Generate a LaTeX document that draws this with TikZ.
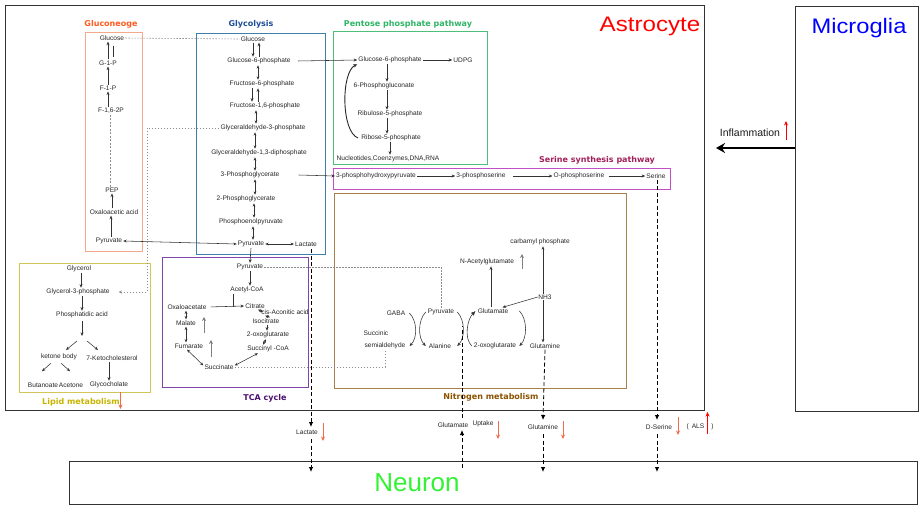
\documentclass[tikz,border=0pt]{standalone}
\usepackage{fontspec}
\setmainfont{Liberation Sans}
\newfontfamily\ttlfont{DejaVu Sans}
\usetikzlibrary{arrows.meta}
\definecolor{cGlucT}{HTML}{FF5A1F}
\definecolor{cGlucB}{HTML}{F5A88C}
\definecolor{cGlyT}{HTML}{1F4E99}
\definecolor{cGlyB}{HTML}{3D7EAA}
\definecolor{cPPPT}{HTML}{2DB565}
\definecolor{cPPPB}{HTML}{4DBF7A}
\definecolor{cSerT}{HTML}{A3205A}
\definecolor{cSerB}{HTML}{C44FC4}
\definecolor{cNitT}{HTML}{8A5200}
\definecolor{cNitB}{HTML}{A8804A}
\definecolor{cTCAT}{HTML}{4A1070}
\definecolor{cTCAB}{HTML}{7D45A8}
\definecolor{cLipT}{HTML}{C8B400}
\definecolor{cLipB}{HTML}{D2C65A}
\definecolor{cDown}{HTML}{F26B4A}
\definecolor{cAstro}{HTML}{FF0000}
\definecolor{cMicro}{HTML}{0000FF}
\definecolor{cNeuron}{HTML}{33F233}
\begin{document}
\begin{tikzpicture}[x=1pt,y=-1pt,
  lbl/.style={font=\fontsize{6.6}{7}\selectfont, text=black!85, inner sep=1pt},
  ttl/.style={font=\ttlfont\bfseries\fontsize{8}{9}\selectfont, inner sep=1pt},
  arr/.style={draw=black!80, line width=0.55pt, -{Stealth[length=3.6pt,width=3pt]}},
  darr/.style={draw=black!80, line width=0.55pt, {Stealth[length=3.4pt,width=2.8pt]}-{Stealth[length=3.4pt,width=2.8pt]}},
  plain/.style={draw=black!80, line width=0.55pt},
  dots/.style={draw=black!45, line width=0.6pt, dash pattern=on 1.5pt off 1.5pt},
  bigdash/.style={draw=black, line width=0.8pt, dash pattern=on 4pt off 2.5pt, -{Latex[length=5pt,width=4.5pt]}},
  redarr/.style={draw=cDown, line width=0.9pt, -{Stealth[length=4.5pt,width=4pt]}},
  redup/.style={draw=red, line width=0.9pt, -{Stealth[length=4.5pt,width=4pt]}},
  grayup/.style={draw=black!50, line width=1pt, -{Stealth[length=4pt,width=4pt]}},
  cellbox/.style={draw=black!80, line width=1.2pt, inner sep=0pt, anchor=north west},
  pbox/.style={line width=0.9pt}]
\useasboundingbox (0,0) rectangle (921,508);

% ---------- cell boxes ----------
\node[cellbox, minimum width=699pt, minimum height=405pt] (astro) at (5,5) {};
\node[cellbox, minimum width=123pt, minimum height=405pt] (micro) at (795,6) {};
\node[cellbox, minimum width=848pt, minimum height=43pt] (neuron) at (69,461) {};
\node[font=\fontsize{21}{21}\selectfont, text=cAstro, inner sep=0pt] (tAstro) at (650,26) {\scalebox{1.15}[1]{Astrocyte}};
\node[font=\fontsize{21}{21}\selectfont, text=cMicro, inner sep=0pt] (tMicro) at (859,28) {\scalebox{1.13}[1]{Microglia}};
\node[font=\fontsize{26}{26}\selectfont, text=cNeuron, inner sep=0pt] (tNeuron) at (417,483) {Neuron};

% Inflammation
\node[font=\fontsize{10.5}{11}\selectfont, text=black!90, inner sep=0pt] (infl) at (750,133) {Inflammation};
\coordinate (inflEnd) at (716,148);
\draw[line width=1.8pt, -{Stealth[length=9pt,width=10pt]}] (micro.west |- inflEnd) -- (inflEnd);
\draw[redup] (786,140) -- (786,121);

% ---------- pathway boxes ----------
\draw[pbox, draw=cGlucB] (85,32) rectangle (142,251);
\draw[pbox, draw=cGlyB] (196,33) rectangle (325,254);
\draw[pbox, draw=cPPPB] (333,31) rectangle (487,164);
\draw[pbox, draw=cSerB] (333,168) rectangle (670,189);
\draw[pbox, draw=cNitB] (334,193) rectangle (626,388);
\draw[pbox, draw=cLipB] (19,263) rectangle (150,392);
\draw[pbox, draw=cTCAB] (162,257) rectangle (308,387);

\node[ttl, text=cGlucT] (hGluc) at (111,24) {Gluconeoge};
\node[ttl, text=cGlyT] (hGly) at (251,24) {Glycolysis};
\node[ttl, text=cPPPT] (hPPP) at (408,24) {Pentose phosphate pathway};
\node[ttl, text=cSerT] (hSer) at (597,160) {Serine synthesis pathway};
\node[ttl, text=cNitT] (hNit) at (491,397) {Nitrogen metabolism};
\node[ttl, text=cTCAT] (hTCA) at (265,398) {TCA cycle};
\node[ttl, text=cLipT] (hLip) at (81,402) {Lipid metabolism};
\draw[redarr] (120.5,392) -- (120.5,409);

% ---------- gluconeogenesis ----------
\node[lbl] (gGlc) at (112,38) {Glucose};
\node[lbl] (gG1P) at (108,63) {G-1-P};
\node[lbl] (gF1P) at (108,88) {F-1-P};
\node[lbl] (gF16) at (111,111) {F-1,6-2P};
\node[lbl] (gPEP) at (112,190) {PEP};
\node[lbl] (gOAA) at (114,212) {Oxaloacetic acid};
\node[lbl] (gPyr) at (109,241) {Pyruvate};
\draw[arr] (108,0 |- gG1P.north) -- (108,0 |- gGlc.south);
\draw[plain, shorten <=4pt, shorten >=2pt] (113,0 |- gGlc.south) -- (113,0 |- gG1P.north);
\draw[arr] (108,0 |- gF1P.north) -- (108,0 |- gG1P.south);
\draw[arr] (108,0 |- gF16.north) -- (108,0 |- gF1P.south);
\draw[dots, dash pattern=on 2pt off 1.5pt] (110,0 |- gPEP.north) -- (110,0 |- gF16.south);
\draw[arr] (112,0 |- gOAA.north) -- (112,0 |- gPEP.south);
\draw[arr] (111,0 |- gPyr.north) -- (111,0 |- gOAA.south);

% ---------- glycolysis ----------
\node[lbl] (yGlc) at (253,39) {Glucose};
\node[lbl] (yG6P) at (259,61) {Glucose-6-phosphate};
\node[lbl] (yF6P) at (262,84) {Fructose-6-phosphate};
\node[lbl] (yF16) at (265,106) {Fructose-1,6-phosphate};
\node[lbl] (yGA3P) at (263,128) {Glyceraldehyde-3-phosphate};
\node[lbl] (yGA13) at (259,153) {Glyceraldehyde-1,3-diphosphate};
\node[lbl] (y3PG) at (250,175) {3-Phosphoglycerate};
\node[lbl] (y2PG) at (246,199) {2-Phosphoglycerate};
\node[lbl] (yPEP) at (251,222) {Phosphoenolpyruvate};
\node[lbl] (yPyr) at (251,244) {Pyruvate};
\node[lbl] (yLac) at (306,244) {Lactate};
\draw[arr] (253,0 |- yGlc.south) -- (253,0 |- yG6P.north);
\draw[arr] (259,0 |- yG6P.north) -- (259,0 |- yGlc.south);
\draw[darr] (258,0 |- yG6P.south) -- (258,0 |- yF6P.north);
\draw[arr] (252,0 |- yF6P.south) -- (252,0 |- yF16.north);
\draw[arr] (258,0 |- yF16.north) -- (258,0 |- yF6P.south);
\draw[darr] (256,0 |- yF16.south) -- (256,0 |- yGA3P.north);
\draw[darr] (255,0 |- yGA3P.south) -- (255,0 |- yGA13.north);
\draw[darr] (255,0 |- yGA13.south) -- (255,0 |- y3PG.north);
\draw[darr] (255,0 |- y3PG.south) -- (255,0 |- y2PG.north);
\draw[darr] (254,0 |- y2PG.south) -- (254,0 |- yPEP.north);
\draw[darr] (253,0 |- yPEP.south) -- (253,0 |- yPyr.north);
\draw[darr] (yPyr.east) -- (yLac.west);
\draw[darr] (gPyr.east) -- (yPyr.west);
\draw[dots] (gGlc.east) -- (yGlc.west);

% ---------- pentose phosphate ----------
\node[lbl] (pG6P) at (390,60) {Glucose-6-phosphate};
\node[lbl] (pUDPG) at (463,60) {UDPG};
\node[lbl] (p6PG) at (384,86) {6-Phosphogluconate};
\node[lbl] (pRu5P) at (390,114) {Ribulose-5-phosphate};
\node[lbl] (pR5P) at (391,138) {Ribose-5-phosphate};
\node[lbl] (pNuc) at (388,159) {Nucleotides,Coenzymes,DNA,RNA};
\draw[arr] ([xshift=6pt]yG6P.east) -- (pG6P.west);
\draw[arr] (pG6P.east) -- (pUDPG.west);
\draw[arr] (387,0 |- pG6P.south) -- (387,0 |- p6PG.north);
\draw[arr] (387,0 |- p6PG.south) -- (387,0 |- pRu5P.north);
\draw[arr] (387,0 |- pRu5P.south) -- (387,0 |- pR5P.north);
\draw[arr] (390,0 |- pR5P.south) -- (390,0 |- pNuc.north);
\draw[line width=0.9pt, black!85, -{Stealth[length=4pt,width=3.5pt]}] ([xshift=-2pt]pR5P.west) .. controls (341,132) and (341,72) .. (pG6P.south west);

% ---------- serine ----------
\node[lbl] (s3PHP) at (376,176) {3-phosphohydroxypyruvate};
\node[lbl] (s3PS) at (481,176) {3-phosphoserine};
\node[lbl] (sOPS) at (579,176) {O-phosphoserine};
\node[lbl] (sSer) at (656,176) {Serine};
\draw[arr] ([xshift=18pt]y3PG.east) -- (s3PHP.west);
\draw[arr] (s3PHP.east) -- (s3PS.west);
\draw[arr, shorten <=6pt] (s3PS.east) -- (sOPS.west);
\draw[arr, shorten <=3pt] (sOPS.east) -- (sSer.west);

% ---------- lipid ----------
\node[lbl] (lGly) at (79,269) {Glycerol};
\node[lbl] (lG3P) at (78,292) {Glycerol-3-phosphate};
\node[lbl] (lPA) at (82,315) {Phosphatidic acid};
\node[lbl] (lKB) at (59,357) {ketone body};
\node[lbl] (l7K) at (112,358) {7-Ketocholesterol};
\node[lbl] (lBut) at (43,385) {Butanoate};
\node[lbl] (lAce) at (71,385) {Acetone};
\node[lbl] (lGC) at (109,385) {Glycocholate};
\coordinate (lSplit) at (82,336);
\draw[arr] (81,0 |- lGly.south) -- (81,0 |- lG3P.north);
\draw[arr] (82,0 |- lG3P.south) -- (82,0 |- lPA.north);
\draw[arr, shorten <=2pt] (82,0 |- lPA.south) -- (lSplit);
\draw[arr] (77,341) -- (66,350);
\draw[arr] (87,341) -- (98,350);
\draw[arr, shorten <=3pt] ([xshift=-6pt]lKB.south) -- ++(-11,10);
\draw[arr, shorten <=3pt] ([xshift=0pt]lKB.south) -- ++(11,10);
\draw[arr] (109,0 |- l7K.south) -- (109,0 |- lGC.north);
\draw[dots, -{Stealth[length=3pt,width=3pt]}, shorten >=8pt] (yGA3P.west) -- (147,0 |- yGA3P.west) |- (lG3P.east);

% ---------- TCA ----------
\node[lbl] (tPyr) at (250,267) {Pyruvate};
\node[lbl] (tAcCoA) at (247,290) {Acetyl-CoA};
\node[lbl] (tOAA) at (187,307) {Oxaloacetate};
\node[lbl] (tCit) at (255,306) {Citrate};
\node[lbl] (tCis) at (285,312) {cis-Aconitic acid};
\node[lbl] (tIso) at (266,321) {Isocitrate};
\node[lbl] (tOG) at (268,335) {2-oxoglutarate};
\node[lbl] (tSCoA) at (268,349) {Succinyl -CoA};
\node[lbl] (tSuc) at (219,367) {Succinate};
\node[lbl] (tFum) at (189,346) {Fumarate};
\node[lbl] (tMal) at (186,323) {Malate};
\draw[arr] (yPyr.south) -- (tPyr.north);
\draw[arr] (250,0 |- tPyr.south) -- (250,0 |- tAcCoA.north);
\draw[arr, shorten <=3pt] (tOAA.east) -- (tCit.west);
\draw[plain] (233,0 |- tAcCoA.south) -- (233,0 |- tOAA.east);
\draw[darr] ([xshift=3pt]tCit.south) -- ([xshift=3pt]tCis.west);
\draw[darr] ([xshift=5pt]tCis.south west) -- ([xshift=4pt]tIso.north);
\draw[arr] (267,0 |- tIso.south) -- (267,0 |- tOG.north);
\draw[darr] ([xshift=-2pt]tOG.south) -- ([xshift=-5pt]tSCoA.north);
\draw[darr] ([xshift=-10pt]tSCoA.south) -- ([yshift=1.5pt]tSuc.east);
\draw[darr] ([yshift=1.5pt]tSuc.west) -- ([xshift=-2pt]tFum.south);
\draw[darr] (186,0 |- tFum.north) -- (186,0 |- tMal.south);
\draw[darr] (186,0 |- tMal.north) -- (186,0 |- tOAA.south);
\draw[grayup] (204,333) -- (204,317);
\draw[grayup] (211,357) -- (211,340);

% ---------- nitrogen ----------
\node[lbl] (nCP) at (540,242) {carbamyl phosphate};
\node[lbl] (nGln) at (545,346) {Glutamine};
\draw[darr] (543,0 |- nGln.north) -- (543,0 |- nCP.south);
\node[lbl, fill=white, inner sep=0.5pt] (nNH3) at (545,297) {NH3};
\node[lbl] (nNAG) at (487,262) {N-Acetylglutamate};
\node[lbl] (nGABA) at (396,313) {GABA};
\node[lbl] (nPyr) at (441,312) {Pyruvate};
\node[lbl] (nGlu) at (493,311) {Glutamate};
\node[lbl] (nSuc) at (376,333) {Succinic};
\node[lbl] (nSSA) at (385,346) {semialdehyde};
\node[lbl] (nAla) at (440,346) {Alanine};
\node[lbl] (nOG) at (495,346) {2-oxoglutarate};
\draw[arr] (491,0 |- nGlu.north) -- (491,0 |- nNAG.south);
\draw[grayup] (522,269) -- (522,254);
\draw[arr] (nNH3.west) -- ([xshift=-7pt]nGlu.north east);
\draw[arr] ([xshift=3pt]nGABA.east) .. controls +(8,8) and +(8,-8) .. ([xshift=3pt]nSSA.east);
\draw[arr] ([xshift=-1pt]nPyr.west) .. controls +(-8,8) and +(-8,-8) .. ([xshift=-2pt]nAla.west);
\draw[arr] ([xshift=2pt]nPyr.east) .. controls +(8,8) and +(8,-8) .. ([xshift=5pt]nAla.east);
\draw[draw=black!80, line width=0.55pt, -{Latex[length=4.5pt,width=4pt]}] ([xshift=-1pt]nOG.west) .. controls +(-8,-8) and +(-8,8) .. ([xshift=-1pt]nGlu.west);
\draw[arr] ([xshift=10pt]nGlu.east) .. controls +(8,8) and +(8,-8) .. ([xshift=2pt]nOG.east);
\draw[dots] (tPyr.east) -| (nPyr.north);
\draw[dots] (tSuc.east) -| (nSSA.south);

% ---------- exchange with neuron ----------
\node[lbl] (bLac) at (307,432) {Lactate};
\node[lbl] (bGlu) at (453,425) {Glutamate};
\node[lbl] (bUpt) at (483,424) {Uptake};
\node[lbl] (bGln) at (543,427) {Glutamine};
\node[lbl] (bDSer) at (659,427) {D-Serine};
\node[lbl] (bALS) at (695.5,427) {( \,ALS};
\node[lbl] (bALSc) at (712.5,427) {)};
\coordinate (eLacA) at (311,249);
\coordinate (eLacB) at (311,427);
\coordinate (eLacC) at (311,439);
\coordinate (eLacD) at (311,472);
\draw[bigdash] (eLacA) -- (eLacB);
\draw[bigdash] (eLacC) -- (eLacD);
\coordinate (eGluA) at (462,468);
\coordinate (eGluB) at (462,430);
\coordinate (eGluC) at (462,418);
\coordinate (eGluD) at (462,326);
\draw[bigdash] (eGluA) -- (eGluB);
\draw[bigdash, -] (eGluC) -- (eGluD);
\coordinate (eGlnB) at (543,420);
\coordinate (eGlnC) at (543,434);
\coordinate (eGlnD) at (543,472);
\draw[bigdash] (nGln.south) -- (eGlnB);
\draw[bigdash] (eGlnC) -- (eGlnD);
\coordinate (eSerB) at (657,420);
\coordinate (eSerC) at (657,434);
\coordinate (eSerD) at (657,472);
\draw[bigdash] ([xshift=1pt]sSer.south) -- (eSerB);
\draw[bigdash] (eSerC) -- (eSerD);
\draw[redarr] (323,423) -- (323,441);
\draw[redarr] (498,421) -- (498,439);
\draw[redarr] (563,421) -- (563,439);
\draw[redarr] (678,417) -- (678,435);
\draw[redup] (707.5,434) -- (707.5,412);
\end{tikzpicture}
\end{document}
